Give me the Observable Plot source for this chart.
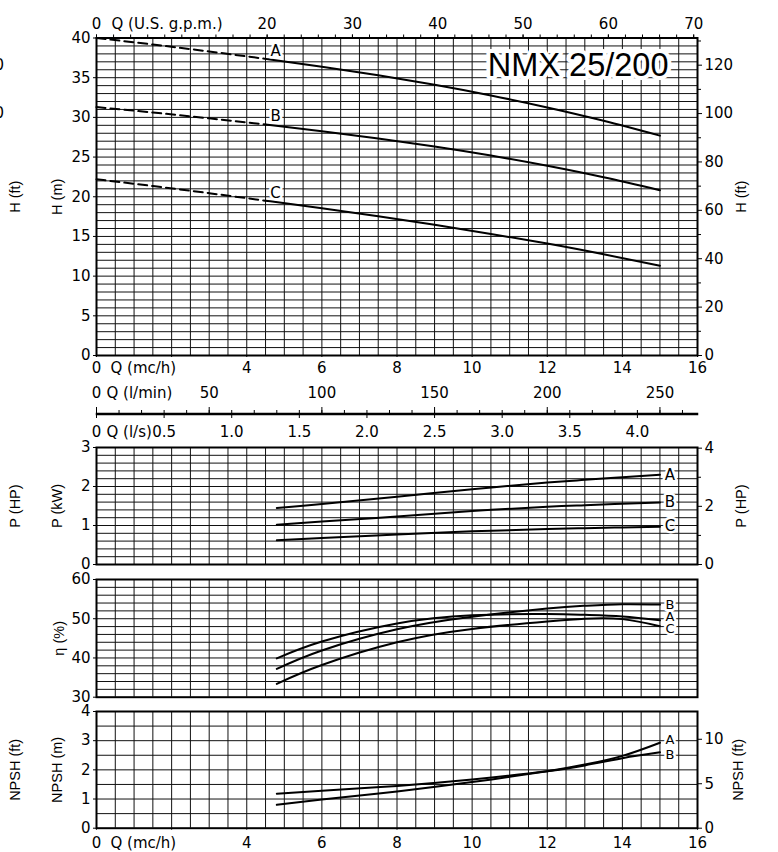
<!DOCTYPE html>
<html><head><meta charset="utf-8">
<script src="https://cdn.jsdelivr.net/npm/d3@7"></script>
<script src="https://cdn.jsdelivr.net/npm/@observablehq/plot@0.6"></script>
<style>
body{margin:0;background:#fff;}
#chart{position:relative;width:778px;height:852px;overflow:hidden;background:#fff;}
#chart svg{position:absolute;left:0;}
</style></head><body><div id="chart"></div>
<script>
// ---------- data ----------
const curveNames = ["A", "B", "C"];
const modelName = "NMX 25/200";

// head curves H (m) vs Q (m3/h)
const qHead = [0, 1.5, 3, 4.5, 6, 7.5, 9, 10.5, 12, 13.5, 15];
const headA = [40.0, 39.18, 38.30, 37.37, 36.38, 35.30, 34.10, 32.76, 31.25, 29.57, 27.70];
const headB = [31.3, 30.61, 29.88, 29.10, 28.26, 27.35, 26.33, 25.19, 23.90, 22.45, 20.81];
const headC = [22.2, 21.35, 20.45, 19.50, 18.55, 17.55, 16.48, 15.32, 14.10, 12.75, 11.30];
const qDashedEnd = 4.5;

// performance curves vs Q (m3/h)
const qPerf = [4.8, 6, 8, 10, 12, 13, 14, 15];
const powerA = [1.45, 1.55, 1.74, 1.93, 2.10, 2.17, 2.24, 2.30];
const powerB = [1.02, 1.10, 1.23, 1.37, 1.48, 1.52, 1.56, 1.59];
const powerC = [0.62, 0.68, 0.77, 0.85, 0.91, 0.93, 0.95, 0.97];
const effA = [39.9, 44.2, 48.8, 50.9, 51.2, 51.0, 50.6, 49.6];
const effB = [37.2, 41.9, 47.3, 50.5, 52.6, 53.3, 53.7, 53.6];
const effC = [33.4, 38.2, 44.0, 47.4, 49.3, 50.0, 49.9, 48.1];
const npshA = [0.80, 0.98, 1.26, 1.58, 1.95, 2.18, 2.48, 2.93];
const npshB = [1.18, 1.28, 1.45, 1.67, 1.95, 2.15, 2.40, 2.60];

// tick values / labels
const qTicks = [0, 2, 4, 6, 8, 10, 12, 14, 16];
const qTickLabels = [0, 4, 6, 8, 10, 12, 14, 16];
const gpmTicks = [0, 2, 4, 6, 8, 10, 12, 14, 16, 18, 20, 22, 24, 26, 28, 30, 32, 34, 36, 38, 40, 42, 44, 46, 48, 50, 52, 54, 56, 58, 60, 62, 64, 66, 68, 70];
const gpmLabels = [0, 20, 30, 40, 50, 60, 70];
const lminTicks = [0, 10, 20, 30, 40, 50, 60, 70, 80, 90, 100, 110, 120, 130, 140, 150, 160, 170, 180, 190, 200, 210, 220, 230, 240, 250, 260];
const lminLabels = [0, 50, 100, 150, 200, 250];
const lsTicks = [0, 0.5, 1.0, 1.5, 2.0, 2.5, 3.0, 3.5, 4.0];
const headTicks = [0, 5, 10, 15, 20, 25, 30, 35, 40];
const headFtTicks = [0, 20, 40, 60, 80, 100, 120];
const headFtMinor = [10, 30, 50, 70, 90, 110, 130];
const headFtCropped = [100, 120];
const powerTicks = [0, 1, 2, 3];
const powerHpTicks = [0, 2, 4];
const powerHpMinor = [1, 3];
const effTicks = [30, 40, 50, 60];
const npshTicks = [0, 1, 2, 3, 4];
const npshFtTicks = [0, 5, 10];

// ---------- unit conversions ----------
const GPM = 0.2271247, LMIN = 0.06, LS = 3.6, FT = 0.3048, HP = 0.7457;

// ---------- layout ----------
const W = 778, ML = 96, MR = 81;
const FONT = "DejaVu Sans";
const SIDE_FONT = "Liberation Sans";
const chart = document.getElementById("chart");
const gridStyle = {stroke: "#111", strokeWidth: 1};
const vGrid = d3.range(0.5, 16, 0.5);
const curveStyle = {stroke: "#000", strokeWidth: 2, curve: "natural"};
const halo = (size) => ({fill: "#000", stroke: "#fff", strokeWidth: 5, paintOrder: "stroke", fontSize: size});
const num = d => String(d);

function rows(xs, series) {
  return curveNames.slice(0, series.length).flatMap((n, k) => xs.map((q, i) => ({name: n, q, v: series[k][i]})));
}
function spread(vals, minGap) {
  const idx = vals.map((v, i) => i).sort((a, b) => vals[b] - vals[a]);
  const out = vals.slice();
  for (let it = 0; it < 30; it++) {
    for (let j = 1; j < idx.length; j++) {
      const a = idx[j - 1], b = idx[j];
      const gap = out[a] - out[b];
      if (gap < minGap) { const d = (minGap - gap) / 2; out[a] += d; out[b] -= d; }
    }
  }
  return out;
}
function endLabels(series, minGap) {
  const ends = series.map(s => s[s.length - 1]);
  const ys = spread(ends, minGap);
  return ys.map((v, k) => ({name: curveNames[k], q: qPerf[qPerf.length - 1], v}));
}
function sideLabel(text, anchor, dx) {
  return Plot.text([text], {text: d => d, frameAnchor: anchor, textAnchor: "middle", lineAnchor: "middle", rotate: -90, dx, fontSize: 14.5, fontFamily: SIDE_FONT, fill: "#000"});
}
function place(svg, top) {
  svg.style.top = top + "px";
  chart.appendChild(svg);
}
const base = (height, mt, mb, ydomain) => ({
  width: W, height, marginLeft: ML, marginRight: MR, marginTop: mt, marginBottom: mb,
  x: {domain: [0, 16], label: null, axis: null},
  y: ydomain ? {domain: ydomain, label: null, axis: null} : undefined,
  style: {fontFamily: FONT, fontSize: "15px", color: "#000", background: "transparent", overflow: "visible"}
});

// ---------- Head panel ----------
const hRows = rows(qHead, [headA, headB, headC]);
const hLabelRows = curveNames.map((n, k) => ({name: n, q: qDashedEnd, v: [headA, headB, headC][k][qHead.indexOf(qDashedEnd)]}));
const hPlot = Plot.plot({
  ...base(380, 37.5, 25, [0, 40]),
  marks: [
    Plot.ruleX(vGrid, gridStyle),
    Plot.ruleY(d3.range(1, 40, 1), gridStyle),
    Plot.frame({stroke: "#000", strokeWidth: 2}),
    Plot.axisY({anchor: "left", ticks: headTicks, tickSize: 3, tickPadding: 3, tickFormat: num}),
    Plot.axisY({anchor: "left", ticks: headFtCropped.map(f => f * FT), tickSize: 0, tickPadding: 121, textAnchor: "start", tickFormat: d => String(Math.round(d / FT))}),
    Plot.axisY({anchor: "right", ticks: headFtTicks.map(f => f * FT), tickSize: 4, tickPadding: 3, tickFormat: d => String(Math.round(d / FT))}),
    Plot.axisY({anchor: "right", ticks: headFtMinor.map(f => f * FT).filter(v => v <= 40), tickSize: 3, tickFormat: () => ""}),
    Plot.axisX({anchor: "top", ticks: gpmTicks.map(g => g * GPM), tickSize: 4, tickFormat: () => ""}),
    Plot.axisX({anchor: "top", ticks: gpmLabels.map(g => g * GPM), tickSize: 4, tickPadding: 5, tickFormat: d => String(Math.round(d / GPM))}),
    Plot.axisX({anchor: "bottom", ticks: qTicks, tickSize: 2, tickPadding: 5, tickFormat: d => qTickLabels.includes(d) ? String(d) : ""}),
    Plot.text(["Q (U.S. g.p.m.)"], {text: d => d, frameAnchor: "top-left", textAnchor: "start", lineAnchor: "bottom", dx: 15, dy: -9}),
    Plot.text(["Q (mc/h)"], {text: d => d, frameAnchor: "bottom-left", textAnchor: "start", lineAnchor: "top", dx: 14, dy: 7}),
    Plot.line(hRows.filter(d => d.q <= qDashedEnd), {x: "q", y: "v", z: "name", ...curveStyle, strokeDasharray: "9,5"}),
    Plot.line(hRows.filter(d => d.q >= qDashedEnd), {x: "q", y: "v", z: "name", ...curveStyle}),
    Plot.text(hLabelRows, {x: "q", y: "v", text: "name", dx: 10, dy: -8, ...halo(15)}),
    Plot.text([modelName], {text: d => d, frameAnchor: "top-right", textAnchor: "end", lineAnchor: "middle", dx: -29, dy: 28, fontSize: 32.5, fontFamily: "Liberation Sans", fill: "#000", stroke: "#fff", strokeWidth: 8, paintOrder: "stroke"}),
    sideLabel("H (m)", "left", -39),
    sideLabel("H (ft)", "left", -81),
    sideLabel("H (ft)", "right", 44)
  ]
});
place(hPlot, 0);

// ---------- l/min and l/s scale strip ----------
const sPlot = Plot.plot({
  ...base(62, 33, 28),
  marks: [
    Plot.frame({stroke: "#000", strokeWidth: 1.5}),
    Plot.axisX({anchor: "top", ticks: lminTicks.map(l => l * LMIN), tickSize: 4, tickFormat: () => ""}),
    Plot.axisX({anchor: "top", ticks: lminLabels.map(l => l * LMIN), tickSize: 7, tickPadding: 9, tickFormat: d => String(Math.round(d / LMIN))}),
    Plot.axisX({anchor: "bottom", ticks: lsTicks.map(v => v * LS), tickSize: 4, tickPadding: 8, tickFormat: d => { const v = Math.round(d / LS * 10) / 10; return v === 0 ? "0" : v.toFixed(1); }}),
    Plot.text(["Q (l/min)"], {text: d => d, frameAnchor: "top-left", textAnchor: "start", lineAnchor: "bottom", dx: 10, dy: -16}),
    Plot.text(["Q (l/s)"], {text: d => d, frameAnchor: "bottom-left", textAnchor: "start", lineAnchor: "top", dx: 10, dy: 12})
  ]
});
place(sPlot, 380);

// ---------- Power panel ----------
const pPlot = Plot.plot({
  ...base(130, 5, 8, [0, 3]),
  marks: [
    Plot.ruleX(vGrid, gridStyle),
    Plot.ruleY(d3.range(0.2, 2.99, 0.2), gridStyle),
    Plot.frame({stroke: "#000", strokeWidth: 2}),
    Plot.axisY({anchor: "left", ticks: powerTicks, tickSize: 3, tickPadding: 3, tickFormat: num}),
    Plot.axisY({anchor: "right", ticks: powerHpTicks.map(h => h * HP), tickSize: 4, tickPadding: 3, tickFormat: d => String(Math.round(d / HP))}),
    Plot.axisY({anchor: "right", ticks: powerHpMinor.map(h => h * HP), tickSize: 3, tickFormat: () => ""}),
    Plot.line(rows(qPerf, [powerA, powerB, powerC]), {x: "q", y: "v", z: "name", ...curveStyle}),
    Plot.text(endLabels([powerA, powerB, powerC], 0.3), {x: "q", y: "v", text: "name", dx: 10, ...halo(15)}),
    sideLabel("P (kW)", "left", -39),
    sideLabel("P (HP)", "left", -81),
    sideLabel("P (HP)", "right", 44)
  ]
});
place(pPlot, 442);

// ---------- Efficiency panel ----------
const ePlot = Plot.plot({
  ...base(134, 7, 9.3, [30, 60]),
  marks: [
    Plot.ruleX(vGrid, gridStyle),
    Plot.ruleY(d3.range(32, 59, 2), gridStyle),
    Plot.frame({stroke: "#000", strokeWidth: 2}),
    Plot.axisY({anchor: "left", ticks: effTicks, tickSize: 3, tickPadding: 3, tickFormat: num}),
    Plot.line(rows(qPerf, [effA, effB, effC]), {x: "q", y: "v", z: "name", ...curveStyle}),
    Plot.text(endLabels([effA, effB, effC], 3.1), {x: "q", y: "v", text: "name", dx: 10, ...halo(13)}),
    sideLabel("η (%)", "left", -37)
  ]
});
place(ePlot, 572);

// ---------- NPSH panel ----------
const nPlot = Plot.plot({
  ...base(146, 5, 24.3, [0, 4]),
  marks: [
    Plot.ruleX(vGrid, gridStyle),
    Plot.ruleY(d3.range(0.5, 3.99, 0.5), gridStyle),
    Plot.frame({stroke: "#000", strokeWidth: 2}),
    Plot.axisY({anchor: "left", ticks: npshTicks, tickSize: 3, tickPadding: 3, tickFormat: num}),
    Plot.axisY({anchor: "right", ticks: npshFtTicks.map(f => f * FT), tickSize: 4, tickPadding: 3, tickFormat: d => String(Math.round(d / FT))}),
    Plot.axisX({anchor: "bottom", ticks: qTicks, tickSize: 2, tickPadding: 7, tickFormat: d => qTickLabels.includes(d) ? String(d) : ""}),
    Plot.text(["Q (mc/h)"], {text: d => d, frameAnchor: "bottom-left", textAnchor: "start", lineAnchor: "top", dx: 14, dy: 9}),
    Plot.line(rows(qPerf, [npshA, npshB]), {x: "q", y: "v", z: "name", ...curveStyle}),
    Plot.text(endLabels([npshA, npshB], 0.5), {x: "q", y: "v", text: "name", dx: 10, ...halo(13)}),
    sideLabel("NPSH (m)", "left", -39),
    sideLabel("NPSH (ft)", "left", -81),
    sideLabel("NPSH (ft)", "right", 41)
  ]
});
place(nPlot, 706);
</script></body></html>
